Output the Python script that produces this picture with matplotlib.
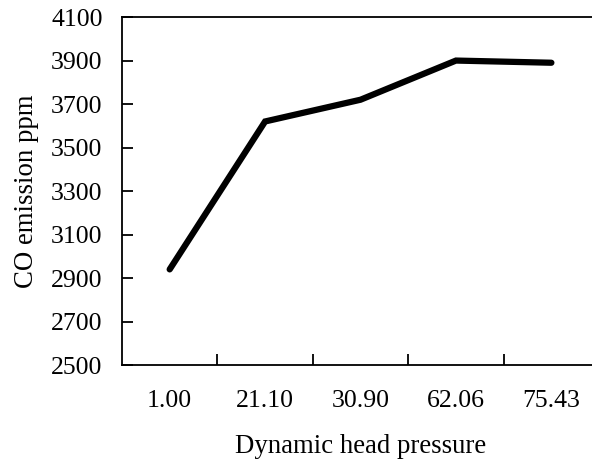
import matplotlib
matplotlib.use("Agg")
import matplotlib.pyplot as plt
import numpy as np

categories = ["1.00", "21.10", "30.90", "62.06", "75.43"]
co_ppm = [2940, 3620, 3720, 3900, 3890]
y_ticks = [2500, 2700, 2900, 3100, 3300, 3500, 3700, 3900, 4100]

plt.rcParams['font.family'] = ['Liberation Serif', 'DejaVu Serif']
FS = 18.5
LFS = 19.3

fig = plt.figure(figsize=(5.92, 4.61), dpi=100)
ax = fig.add_axes([0.206, 0.208, 0.806, 0.755])

x = np.arange(len(categories))
ax.plot(x, co_ppm, color='black', lw=4.5, solid_capstyle='round', solid_joinstyle='miter')

ax.set_xlim(-0.5, len(categories) - 0.5)
ax.set_ylim(y_ticks[0], y_ticks[-1])
ax.set_yticks(y_ticks)
ax.set_yticklabels([str(v) for v in y_ticks], fontsize=FS)

ax.set_xticks(x[:-1] + 0.5)
ax.set_xticklabels([])
ax.set_xticks(x, minor=True)
ax.set_xticklabels(categories, minor=True, fontsize=FS)
ax.tick_params(axis='x', which='minor', length=0, pad=18)
ax.tick_params(axis='x', which='major', direction='in', length=8, width=1.3)
ax.tick_params(axis='y', direction='in', length=8, width=1.3, pad=14)

for s in ax.spines.values():
    s.set_linewidth(1.3)

ax.set_xlabel("Dynamic head pressure", fontsize=LFS, labelpad=16)
ax.set_ylabel("CO emission ppm", fontsize=LFS, labelpad=9)

fig.savefig("out.png", dpi=100)
